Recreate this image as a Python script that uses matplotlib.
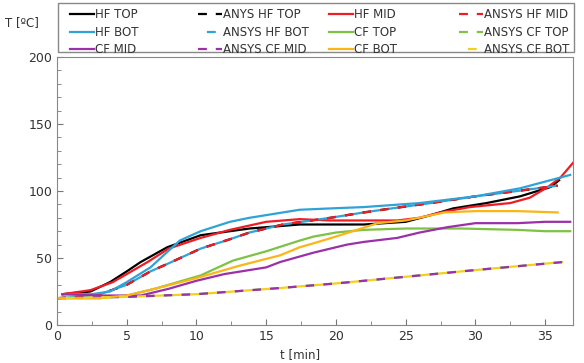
import matplotlib.pyplot as plt
from matplotlib.ticker import MultipleLocator
from matplotlib.patches import Rectangle

# tiempos (min) y temperaturas (ºC)
t_hf_top = [0.4, 2.4, 3.8, 5, 6, 7.9, 10.3, 13.8, 17.4, 20, 22, 25, 26.8, 28.4, 30.8, 33.2, 35.4, 36]
hf_top = [23, 25, 32, 40, 47, 58, 67, 72, 75, 75, 75, 77, 82, 87, 91, 96, 103, 108]

t_hf_mid = [0.4, 2.4, 4, 5, 6.5, 8, 10.3, 12.4, 15, 17.4, 19.6, 22, 24.4, 26, 27.5, 29.6, 32.5, 33.9, 35.2, 36.1, 37]
hf_mid = [23, 26, 32, 38, 47, 57, 65, 71, 77, 79, 78, 78, 78, 80, 84, 88, 91, 95, 103, 110, 121]

t_hf_bot = [0.4, 2.5, 3.8, 5, 6.7, 8.8, 10.3, 12.4, 13.8, 17.4, 19.6, 22, 26, 30, 33.2, 35, 36.8]
hf_bot = [23, 23, 25, 32, 43, 63, 70, 77, 80, 86, 87, 88, 91, 96, 102, 107, 112]

t_ansys_hf = [0, 1.5, 3.1, 5, 6.7, 8, 10.3, 12.4, 13.8, 16.2, 19.6, 22, 24, 26.8, 30, 33, 35.9]
ansys_hf = [20, 21, 23, 30, 40, 46, 57, 64, 69, 75, 80, 84, 87, 91, 96, 100, 104]

t_cf_top = [0, 3, 5, 7, 10.3, 12.6, 15, 17.4, 18.4, 20, 22, 25, 29, 33, 35, 36.8]
cf_top = [20, 20, 22, 27, 37, 48, 55, 63, 66, 69, 71, 72, 72, 71, 70, 70]

t_cf_mid = [0.4, 3, 6, 8, 10, 12, 15, 16, 18.4, 20.8, 22, 24.4, 26, 28, 30, 33, 35, 36.8]
cf_mid = [23, 22, 22, 27, 33, 38, 43, 47, 54, 60, 62, 65, 69, 73, 76, 76, 77, 77]

t_cf_bot = [0, 3, 5, 7, 10, 13, 16, 17.4, 18.4, 20, 23, 25, 27.8, 30, 33, 35.9]
cf_bot = [20, 20, 22, 27, 35, 44, 52, 58, 61, 66, 76, 78, 84, 85, 85, 84]

t_ansys_cf = [0, 5, 10, 16, 20, 25, 30, 36.3]
ansys_cf = [20, 21, 23, 27.6, 31, 36, 41, 47]

fig = plt.figure(figsize=(5.84, 3.63), dpi=100)
ax = fig.add_axes([57 / 584, 38 / 363, 516 / 584, 268 / 363])

lw = 1.6
dash = (0, (4, 4))
dash_off = (4, (4, 4))
l1 = ax.plot(t_hf_top, hf_top, color='black', lw=lw, label='HF TOP')[0]
l2 = ax.plot(t_ansys_hf, ansys_hf, color='black', lw=lw, ls=dash, label='ANYS HF TOP')[0]
l3 = ax.plot(t_hf_mid, hf_mid, color='#ee1c24', lw=lw, label='HF MID')[0]
l4 = ax.plot(t_ansys_hf, ansys_hf, color='#ee1c24', lw=lw, ls=dash, label='ANSYS HF MID')[0]
l5 = ax.plot(t_hf_bot, hf_bot, color='#2ea3d8', lw=lw, label='HF BOT')[0]
l6 = ax.plot(t_ansys_hf, ansys_hf, color='#2ea3d8', lw=lw, ls=dash_off, label='ANSYS HF BOT')[0]
l7 = ax.plot(t_cf_top, cf_top, color='#7dc242', lw=lw, label='CF TOP')[0]
l8 = ax.plot(t_ansys_cf, ansys_cf, color='#7dc242', lw=lw, ls=dash, label='ANSYS CF TOP')[0]
l9 = ax.plot(t_cf_mid, cf_mid, color='#9b30a8', lw=lw, label='CF MID')[0]
l10 = ax.plot(t_ansys_cf, ansys_cf, color='#9b30a8', lw=lw, ls=dash, label='ANSYS CF MID')[0]
l11 = ax.plot(t_cf_bot, cf_bot, color='#fbb517', lw=lw, label='CF BOT')[0]
l12 = ax.plot(t_ansys_cf, ansys_cf, color='#f2d11b', lw=lw, ls=dash_off, label='ANSYS CF BOT')[0]

ax.set_xlim(0, 37)
ax.set_ylim(0, 200)
ax.xaxis.set_major_locator(MultipleLocator(5))
ax.xaxis.set_minor_locator(MultipleLocator(2.5))
ax.yaxis.set_major_locator(MultipleLocator(50))
ax.yaxis.set_minor_locator(MultipleLocator(10))
ax.tick_params(which='both', direction='in', color='#777777', labelsize=9, labelcolor='#333333')
ax.tick_params(which='major', length=4)
ax.tick_params(which='minor', length=3)
for s in ax.spines.values():
    s.set_color('#888888')

fig.text(22 / 584, 1 - 23 / 363, 'T [ºC]', ha='center', va='center', fontsize=8.5, color='#333333')
fig.text(300 / 584, 1 - 355 / 363, 't [min]', ha='center', va='center', fontsize=8.5, color='#333333')

# leyenda: cuatro columnas separadas, con un marco comun
columnas = [[l1, l5, l9], [l2, l6, l10], [l3, l7, l11], [l4, l8, l12]]
x_col = [70, 198, 329, 459]
for x, hs in zip(x_col, columnas):
    leg = fig.legend(hs, [h.get_label() for h in hs], loc='upper left',
                     bbox_to_anchor=(x / 584, 1 - 8.5 / 363), fontsize=8.5,
                     handlelength=2.0, handletextpad=0.1, borderaxespad=0, borderpad=0,
                     labelspacing=0.36, frameon=False)
    for txt in leg.get_texts():
        txt.set_color('#333333')
fig.patches.append(Rectangle((58 / 584, 1 - 52 / 363), 516 / 584, 49 / 363,
                             transform=fig.transFigure, fill=False,
                             edgecolor='#888888', lw=1.0))

fig.savefig('out.png', dpi=100)
